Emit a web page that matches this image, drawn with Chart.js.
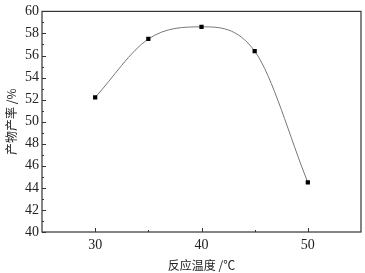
<!DOCTYPE html>
<html>
<head>
<meta charset="utf-8">
<script src="https://cdn.jsdelivr.net/npm/chart.js@4"></script>
<style>
  html, body { margin: 0; padding: 0; background: #fff; }
  #box { width: 365px; height: 273px; }
</style>
</head>
<body>
<div id="box"><canvas id="grafico"></canvas></div>
<script>
const temperaturas = [30, 35, 40, 45, 50];
const rendimentos = [52.2, 57.5, 58.6, 56.4, 44.5];
const ticksX = [30, 40, 50];
const ticksMenoresX = [35, 45];
const tituloX = "反应温度 /℃";
const tituloY = "产物产率 /%";

const corEixo = "#333";

// ticks para dentro + moldura completa
const moldura = {
  id: "moldura",
  afterDraw(chart) {
    const ctx = chart.ctx;
    const a = chart.chartArea;
    const x = chart.scales.x;
    const y = chart.scales.y;
    ctx.save();
    ctx.strokeStyle = corEixo;
    ctx.lineWidth = 1.2;
    ctx.strokeRect(a.left, a.top, a.right - a.left, a.bottom - a.top);
    ctx.lineWidth = 1;
    ctx.beginPath();
    ticksX.forEach(v => {
      const px = Math.round(x.getPixelForValue(v)) + 0.5;
      ctx.moveTo(px, a.bottom);
      ctx.lineTo(px, a.bottom - 4);
    });
    ticksMenoresX.forEach(v => {
      const px = Math.round(x.getPixelForValue(v)) + 0.5;
      ctx.moveTo(px, a.bottom);
      ctx.lineTo(px, a.bottom - 2);
    });
    for (let v = 40; v <= 60; v++) {
      const py = Math.round(y.getPixelForValue(v)) + 0.5;
      ctx.moveTo(a.left, py);
      ctx.lineTo(a.left + (v % 2 === 0 ? 4 : 2), py);
    }
    ctx.stroke();
    ctx.restore();
  }
};

const ctx = document.getElementById("grafico").getContext("2d");

const grafico = new Chart(ctx, {
  type: "line",
  data: {
    labels: temperaturas,
    datasets: [{
      data: temperaturas.map((t, i) => ({ x: t, y: rendimentos[i] })),
      borderColor: "#777",
      borderWidth: 1,
      cubicInterpolationMode: "monotone",
      pointStyle: "rect",
      pointRadius: 3,
      pointBackgroundColor: "#000",
      pointBorderColor: "#000",
      pointBorderWidth: 0
    }]
  },
  options: {
    responsive: true,
    maintainAspectRatio: false,
    animation: false,
    layout: { padding: { top: 6, right: 4, left: 0, bottom: 0 } },
    plugins: { legend: { display: false }, tooltip: { enabled: false } },
    scales: {
      x: {
        type: "linear",
        min: 25,
        max: 55,
        afterBuildTicks: s => { s.ticks = ticksX.map(v => ({ value: v })); },
        afterFit: s => { s.height = 41; },
        grid: { display: false, drawTicks: false },
        border: { display: false },
        ticks: {
          padding: 5,
          color: "#222",
          font: { family: "Liberation Serif", size: 14 }
        },
        title: {
          display: true,
          text: tituloX,
          color: "#222",
          padding: { top: 2, bottom: 0 },
          font: { family: "Noto Sans CJK SC", size: 12 }
        }
      },
      y: {
        min: 40,
        max: 60,
        afterFit: s => { s.width = 42; },
        grid: { display: false, drawTicks: false },
        border: { display: false },
        ticks: {
          stepSize: 2,
          padding: 3,
          color: "#222",
          font: { family: "Liberation Serif", size: 14 }
        },
        title: {
          display: true,
          text: tituloY,
          color: "#222",
          padding: { top: 4, bottom: 0 },
          font: { family: "Noto Sans CJK SC", size: 12 }
        }
      }
    }
  },
  plugins: [moldura]
});
</script>
</body>
</html>
